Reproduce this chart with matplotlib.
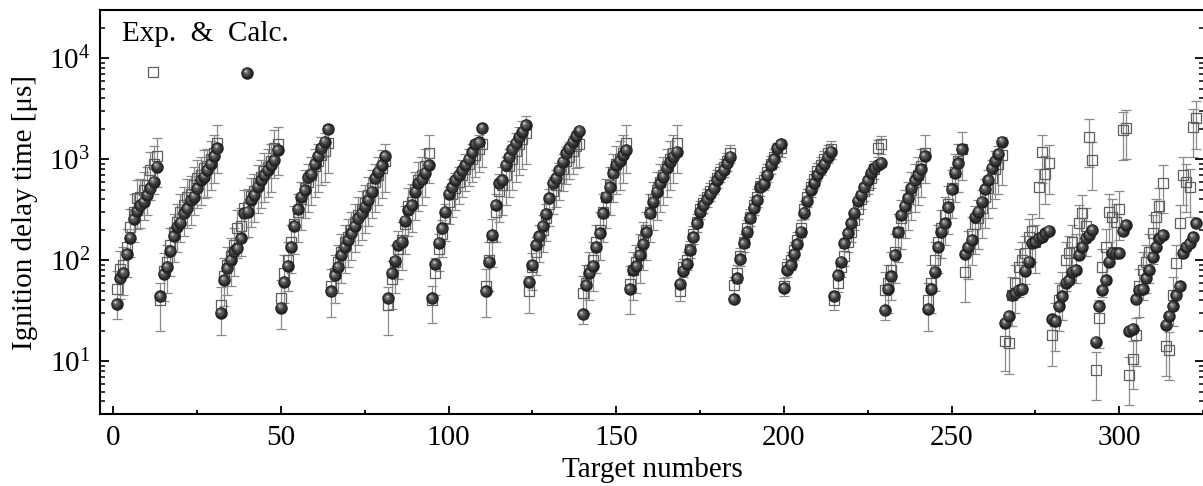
import matplotlib
matplotlib.use('Agg')
import matplotlib.pyplot as plt
from matplotlib import transforms
from matplotlib.ticker import MultipleLocator, LogLocator, NullFormatter
import numpy as np

plt.rcParams['font.family'] = ['Liberation Serif', 'DejaVu Serif']
plt.rcParams['mathtext.fontset'] = 'custom'
plt.rcParams['mathtext.rm'] = 'Liberation Serif'
plt.rcParams['mathtext.it'] = 'Liberation Serif:italic'

# ---- data: calculated (spheres) and experimental (squares) per target group ----
calc_groups = [
    [37, 66, 75, 115, 167, 256, 308, 350, 380, 443, 517, 600, 845],
    [44, 73, 86, 124, 174, 215, 236, 290, 327, 396, 427, 517, 624, 673, 784, 900, 1080, 1285],
    [30, 64, 83, 101, 122, 131, 165, 292, 303, 396, 443, 536, 624, 700, 784, 880, 985, 1237],
    [34, 61, 88, 136, 219, 320, 427, 497, 664, 716, 898, 1079, 1285, 1494, 1983],
    [49, 71, 86, 113, 136, 159, 185, 219, 261, 292, 340, 396, 478, 649, 755, 880, 1079],
    [42, 75, 99, 142, 153, 247, 315, 353, 478, 586, 634, 737, 880],
    [42, 92, 149, 207, 303, 454, 529, 624, 700, 773, 880, 1000, 1165, 1420, 1464, 2028],
    [49, 97, 178, 353, 578, 624, 880, 1048, 1256, 1440, 1651, 1877, 2188],
    [61, 90, 142, 172, 219, 287, 411, 578, 649, 773, 948, 1148, 1285, 1494, 1700, 1918],
    [29, 57, 75, 88, 136, 185, 292, 427, 529, 726, 880, 970, 1105, 1237],
    [52, 80, 88, 113, 145, 188, 292, 380, 478, 578, 673, 815, 948, 1062, 1191],
    [58, 79, 92, 126, 169, 232, 303, 353, 401, 454, 517, 624, 700, 784, 912, 1062],
    [41, 66, 102, 147, 192, 261, 330, 396, 529, 574, 700, 880, 1000, 1285, 1420],
    [53, 80, 90, 115, 145, 192, 296, 389, 497, 586, 700, 800, 900, 1050, 1191],
    [44, 71, 97, 147, 185, 232, 296, 389, 443, 529, 617, 737, 815, 880, 925],
    [32, 52, 69, 113, 188, 281, 345, 411, 517, 617, 700, 797, 1079],
    [33, 52, 77, 136, 192, 232, 333, 505, 737, 912, 1256],
    [115, 136, 159, 270, 303, 380, 505, 624, 815, 970, 1130, 1494],
    [24, 28, 45, 47, 51, 52, 79, 97, 147, 152, 165, 171, 185, 196],
    [26, 25, 35, 44, 60, 63, 77, 80, 113, 136, 165, 178, 200],
    [15.6, 35, 51, 63, 97, 119, 117, 118, 193, 224],
    [20, 21, 41, 51, 52, 66, 80, 108, 136, 165, 178],
    [23, 28, 35, 45, 55, 117, 136, 147, 169, 232],
]
exp_groups = [
    [52, 82, 90, 136, 215, 300, 411, 420, 497, 560, 784, 900, 1070],
    [40, 78, 95, 140, 190, 240, 300, 350, 420, 450, 560, 650, 700, 820, 850, 1000, 1150, 1450],
    [36, 70, 90, 110, 140, 210, 220, 330, 340, 430, 480, 580, 660, 760, 840, 950, 1300, 1400],
    [42, 75, 100, 150, 230, 300, 400, 520, 600, 700, 850, 950, 1100, 1200, 1450],
    [55, 75, 95, 120, 150, 170, 200, 240, 280, 320, 370, 440, 520, 600, 700, 820, 950],
    [36, 65, 95, 130, 160, 230, 345, 380, 500, 620, 700, 850, 1150],
    [40, 75, 130, 180, 260, 380, 450, 520, 600, 700, 800, 900, 1000, 1100, 1250, 1400],
    [55, 100, 170, 300, 480, 560, 700, 850, 1000, 1200, 1400, 1600, 1800],
    [50, 85, 120, 160, 200, 260, 360, 480, 560, 650, 800, 950, 1050, 1200, 1350, 1400],
    [47, 60, 80, 100, 150, 200, 300, 420, 560, 750, 900, 1000, 1150, 1450],
    [58, 80, 95, 120, 160, 200, 300, 400, 500, 600, 700, 850, 1000, 1150, 1450],
    [49, 85, 100, 130, 180, 240, 320, 370, 420, 480, 560, 650, 740, 830, 950, 1150],
    [57, 75, 110, 150, 210, 270, 350, 420, 540, 620, 750, 900, 1050, 1200, 1300],
    [55, 85, 100, 125, 160, 210, 320, 420, 530, 640, 760, 880, 1000, 1150, 1250],
    [40, 60, 85, 110, 150, 190, 250, 320, 400, 480, 560, 650, 800, 1300, 1400],
    [51, 60, 80, 120, 190, 260, 330, 400, 500, 600, 700, 850, 1150],
    [40, 60, 100, 150, 210, 280, 360, 520, 750, 950, 1250],
    [77, 130, 180, 230, 260, 330, 420, 520, 650, 800, 900, 1100],
    [16, 15, 45, 60, 86, 100, 117, 171, 193, 150, 529, 1165, 716, 912],
    [18, 25, 40, 51, 100, 117, 150, 120, 232, 292, 220, 1676, 985],
    [8.2, 27, 86, 136, 303, 270, 241, 320, 1950, 2028],
    [7.3, 10.5, 18, 55, 80, 95, 120, 185, 270, 345, 586],
    [14.2, 13, 45, 94, 232, 700, 600, 536, 2100, 2540],
]
# relative experimental uncertainty per group
err_frac = [0.5, 0.5, 0.5, 0.5, 0.5, 0.5, 0.4, 0.5, 0.4, 0.5, 0.5, 0.2,
            0.2, 0.2, 0.2, 0.5, 0.5, 0.5, 0.5, 0.5, 0.5, 0.5, 0.5]

x_ticks = [0, 50, 100, 150, 200, 250, 300]
x_label = "Target numbers"
y_label = "Ignition delay time [\u03bcs]"

# ---- assemble ----
calc = np.concatenate([np.array(g, float) for g in calc_groups])
exp_ = np.concatenate([np.array(g, float) for g in exp_groups])
frac = np.concatenate([np.full(len(g), f) for g, f in zip(exp_groups, err_frac)])
target = np.arange(1, len(calc) + 1)

W, H = 1203, 486
fig = plt.figure(figsize=(W / 100, H / 100), dpi=100)
ax = fig.add_axes([100 / W, 72 / H, 1104 / W, 404 / H])


def sphere(ax, xs, ys, transform, ms=9.0, zorder=5):
    layers = [(ms, '#222222', 0.0, 0.0),
              (ms * 0.78, '#363636', -0.4, 0.6),
              (ms * 0.55, '#555555', -0.9, 1.2),
              (ms * 0.33, '#858585', -1.3, 1.7),
              (ms * 0.15, '#cfcfcf', -1.6, 2.1)]
    for xi, yi in zip(xs, ys):
        for size, col, dx, dy in layers:
            tr = transforms.offset_copy(transform, fig=ax.figure, x=dx, y=dy, units='dots')
            ax.plot([xi], [yi], 'o', ms=size, color=col, mec='none',
                    transform=tr, zorder=zorder)


ax.errorbar(target, exp_, yerr=[exp_ * frac, exp_ * frac], fmt='none',
            ecolor='#8a8a8a', elinewidth=0.9, capsize=3.5, capthick=0.9, zorder=2)
ax.plot(target, exp_, 's', mfc='none', mec='#5e5e5e', ms=7.5, mew=0.9, zorder=3)
sphere(ax, target, calc, ax.transData)

ax.set_yscale('log')
ax.set_ylim(3, 3e4)
ax.set_xlim(-4, 325.3)
ax.set_xticks(x_ticks)
ax.xaxis.set_minor_locator(MultipleLocator(25))
ax.yaxis.set_minor_locator(LogLocator(base=10, subs=np.arange(2, 10)))
ax.yaxis.set_minor_formatter(NullFormatter())

ax.tick_params(axis='x', which='major', direction='in', length=6, width=1.3,
               labelsize=21, pad=8, top=False)
ax.tick_params(axis='x', which='minor', direction='in', length=3, width=1.3, top=False)
ax.tick_params(axis='y', which='major', direction='in', length=6.5, width=1.3,
               labelsize=21, pad=7, right=True)
ax.tick_params(axis='y', which='minor', direction='in', length=3.5, width=1.1, right=True)
for s in ax.spines.values():
    s.set_linewidth(1.5)

ax.set_xlabel(x_label, fontsize=21, labelpad=4)
ax.set_ylabel(y_label, fontsize=21, labelpad=8)

# legend-like header
ax.text(0.02, 0.941, "Exp.  &  Calc.", transform=ax.transAxes, fontsize=21,
        ha='left', va='center')
ax.plot([0.048], [0.8465], 's', mfc='none', mec='#5e5e5e', ms=7.5, mew=0.9,
        transform=ax.transAxes, zorder=3)
sphere(ax, [0.133], [0.844], ax.transAxes)

fig.savefig('out.png', dpi=100)
